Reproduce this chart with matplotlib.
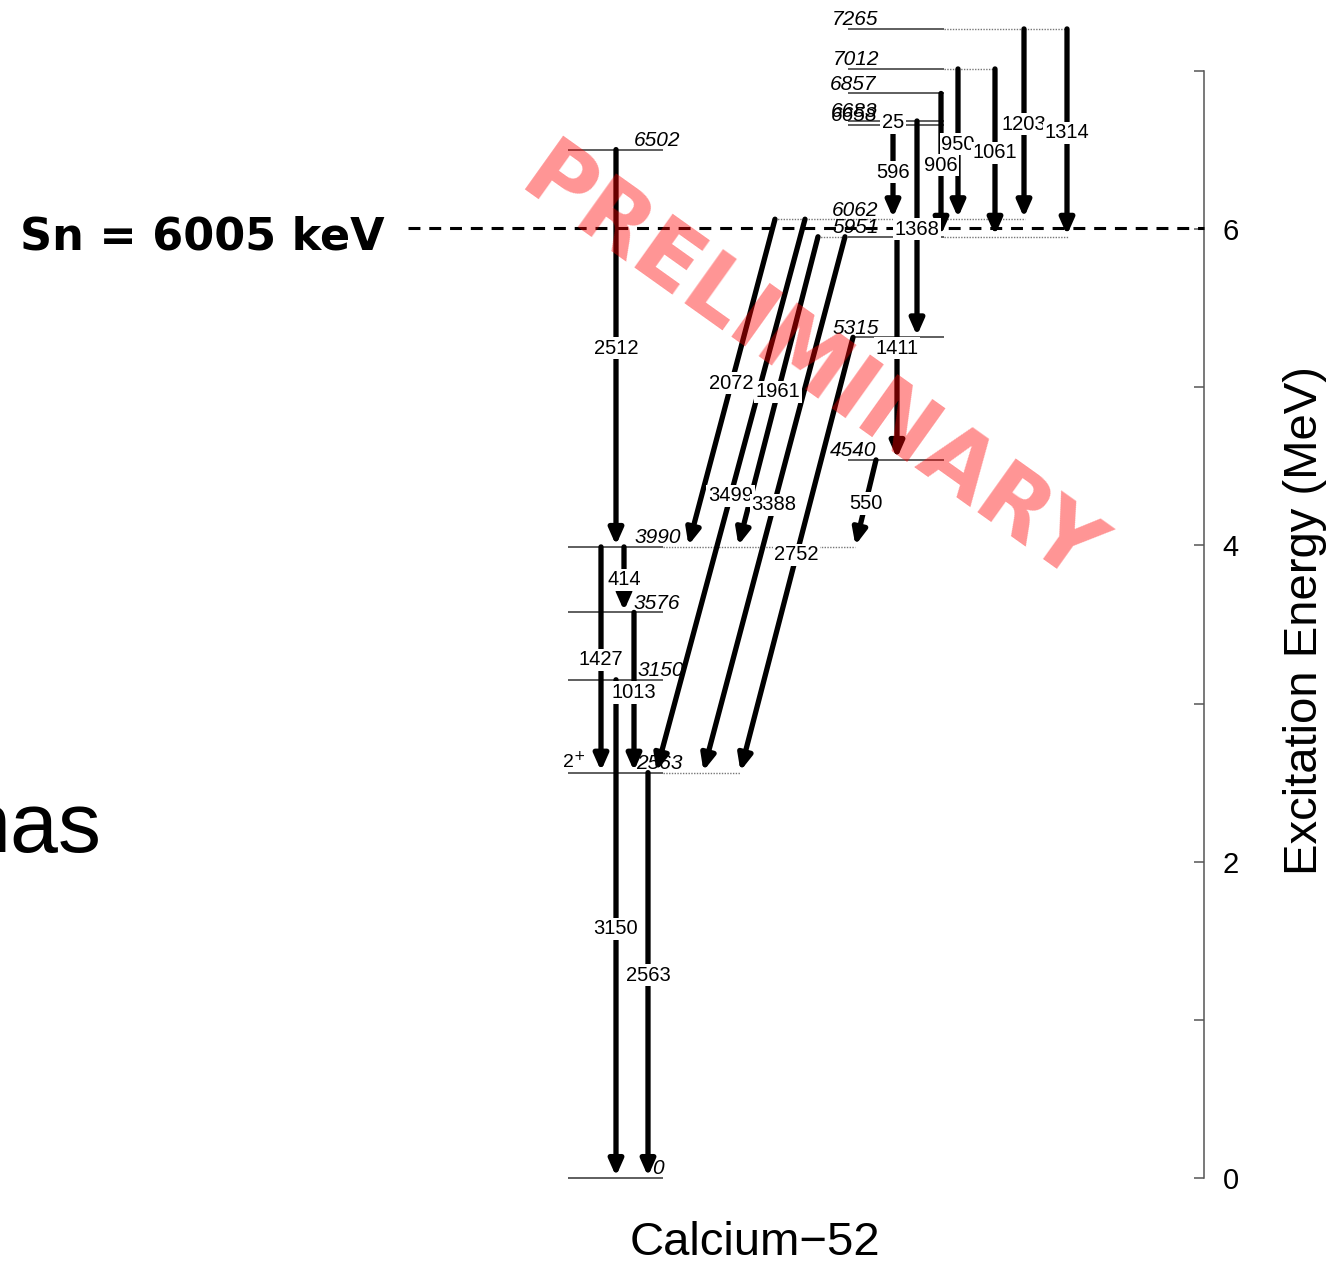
import matplotlib
matplotlib.use('Agg')
import matplotlib.pyplot as plt

# ---------------- data ----------------
level_energies = [0, 2563, 3150, 3576, 3990, 4540, 5315, 5951, 6062,
                  6502, 6658, 6683, 6857, 7012, 7265]
level_labels = ['0', '2563', '3150', '3576', '3990', '4540', '5315', '5951',
                '6062', '6502', '6658', '6683', '6857', '7012', '7265']

trans_from = [6502, 3990, 3990, 3576, 3150, 2563, 6062, 6062, 5951, 5951,
              5315, 4540, 5951, 6683, 6658, 6683, 6857, 7012, 7012, 7265, 7265]
trans_to = [3990, 3576, 2563, 2563, 0, 0, 3990, 2563, 3990, 2563,
            2563, 3990, 4540, 5315, 6062, 6658, 5951, 6062, 5951, 6062, 5951]
trans_labels = ['2512', '414', '1427', '1013', '3150', '2563', '2072', '3499',
                '1961', '3388', '2752', '550', '1411', '1368', '596', '25',
                '906', '950', '1061', '1203', '1314']

sn_energy = 6005
sn_label = 'Sn = 6005 keV'
axis_ticks = [0, 1, 2, 3, 4, 5, 6, 7]
axis_tick_labels = ['0', '', '2', '', '4', '', '6', '']
axis_label = 'Excitation Energy (MeV)'
nucleus_label = 'Calcium\u221252'
spin_label = '2$^{+}$'
side_text = 'nas'
watermark = 'PRELIMINARY'

# ---------------- layout (pixel x positions) ----------------
W, H, DPI = 1332, 1262, 100
PX_PER_KEV = 949.0 / 6000.0
Y0_PX = 1178.0


def py2e(py):
    return (Y0_PX - py) / PX_PER_KEV


level_layout = {
    0: dict(solid=(568, 663), dots=[], lx=652),
    2563: dict(solid=(568, 663), dots=[(663, 740)], lx=636),
    3150: dict(solid=(568, 663), dots=[], lx=638),
    3576: dict(solid=(568, 663), dots=[], lx=634),
    3990: dict(solid=(568, 663), dots=[(663, 855)], lx=635),
    4540: dict(solid=(848, 944), dots=[], lx=830),
    5315: dict(solid=(852, 944), dots=[], lx=833),
    5951: dict(solid=(848, 944), dots=[(815, 848), (944, 1068)], lx=833),
    6062: dict(solid=None, dots=[(772, 1025)], lx=832),
    6502: dict(solid=(568, 663), dots=[], lx=634),
    6658: dict(solid=(848, 944), dots=[], lx=831),
    6683: dict(solid=(848, 944), dots=[], lx=831),
    6857: dict(solid=(848, 944), dots=[], lx=830),
    7012: dict(solid=(848, 944), dots=[(944, 996)], lx=833),
    7265: dict(solid=(848, 944), dots=[(944, 1068)], lx=832),
}

trans_x = {
    '2512': (616, 616), '414': (624, 624), '1427': (601, 601),
    '1013': (634, 634), '3150': (616, 616), '2563': (648, 648),
    '2072': (775, 688), '3499': (805, 656), '1961': (818, 738),
    '3388': (845, 703), '2752': (853, 740), '550': (876, 855),
    '1411': (897, 897), '1368': (917, 917), '596': (893, 893),
    '25': (893, 893), '906': (941, 941), '950': (958, 958),
    '1061': (995, 995), '1203': (1024, 1024), '1314': (1067, 1067),
}
no_arrow = {'25'}

FONT = 'Liberation Sans'

fig = plt.figure(figsize=(W / DPI, H / DPI), dpi=DPI)
fig.patch.set_facecolor('white')

ylim_kev = (py2e(H), py2e(0))

# right energy axis
ax2 = fig.add_axes([0, 0, 1204 / W, 1])
ax2.set_ylim(ylim_kev[0] / 1000.0, ylim_kev[1] / 1000.0)
ax2.patch.set_visible(False)
for s in ['left', 'top', 'bottom']:
    ax2.spines[s].set_visible(False)
ax2.spines['right'].set_bounds(0, 7)
ax2.spines['right'].set_color('#555555')
ax2.spines['right'].set_linewidth(1.1)
ax2.xaxis.set_visible(False)
ax2.yaxis.tick_right()
ax2.set_yticks(axis_ticks)
ax2.set_yticklabels(axis_tick_labels, fontfamily=FONT)
ax2.tick_params(axis='y', direction='in', length=7.2, width=1.1,
                color='#555555', pad=13.5, labelsize=21)

# main diagram axes
ax = fig.add_axes([0, 0, 1, 1])
ax.set_xlim(0, W)
ax.set_ylim(*ylim_kev)
ax.axis('off')

# Sn line
ax.plot([408, 1204], [sn_energy, sn_energy], color='black', lw=2.2,
        linestyle=(0, (3.9, 2.9)), zorder=1)
ax.text(20, py2e(249), sn_label, fontsize=32, fontweight='heavy',
        family='DejaVu Sans', ha='left', va='baseline')

# levels
for e, lab in zip(level_energies, level_labels):
    lay = level_layout[e]
    if lay['solid'] is not None:
        ax.plot(lay['solid'], [e, e], color='#333333', lw=1.1,
                solid_capstyle='butt', zorder=2)
    for d in lay['dots']:
        ax.plot(d, [e, e], color='#777777', lw=1.0,
                linestyle=(0, (1, 1)), zorder=2)
    ax.text(lay['lx'], e + 3.5 / PX_PER_KEV, lab, fontsize=15,
            fontstyle='italic', family=FONT, ha='left', va='baseline',
            zorder=3)

ax.text(562, py2e(768), spin_label, fontsize=14, family=FONT,
        ha='left', va='baseline', zorder=3)

# transitions
for ef, et, lab in zip(trans_from, trans_to, trans_labels):
    x0, x1 = trans_x[lab]
    if lab not in no_arrow:
        ax.annotate('', xy=(x1, et), xytext=(x0, ef),
                    arrowprops=dict(arrowstyle='-|>,head_length=0.95,head_width=0.42',
                                    lw=3.8, color='black', shrinkA=0,
                                    shrinkB=1.2, mutation_scale=10),
                    zorder=4)
    ax.text((x0 + x1) / 2.0, (ef + et) / 2.0, lab, fontsize=14.5,
            family=FONT, ha='center', va='center', zorder=5,
            bbox=dict(boxstyle='square,pad=0.08', fc='white', ec='none'))

# labels
ax.text(755, py2e(1255), nucleus_label, fontsize=34, family=FONT,
        ha='center', va='baseline')
ax.text(1305, py2e(621), axis_label, fontsize=34, family=FONT,
        ha='center', va='center', rotation=90)
ax.text(101, py2e(852), side_text, fontsize=62,
        family=['Liberation Sans Narrow', 'Liberation Sans'],
        ha='right', va='baseline')

# watermark
ax.text(810, py2e(368), watermark, fontsize=65, fontweight='bold',
        family='DejaVu Sans', color='red', alpha=0.42, rotation=-35.5,
        rotation_mode='anchor', ha='center', va='center', zorder=10)

fig.savefig('out.png', dpi=DPI, facecolor='white')
